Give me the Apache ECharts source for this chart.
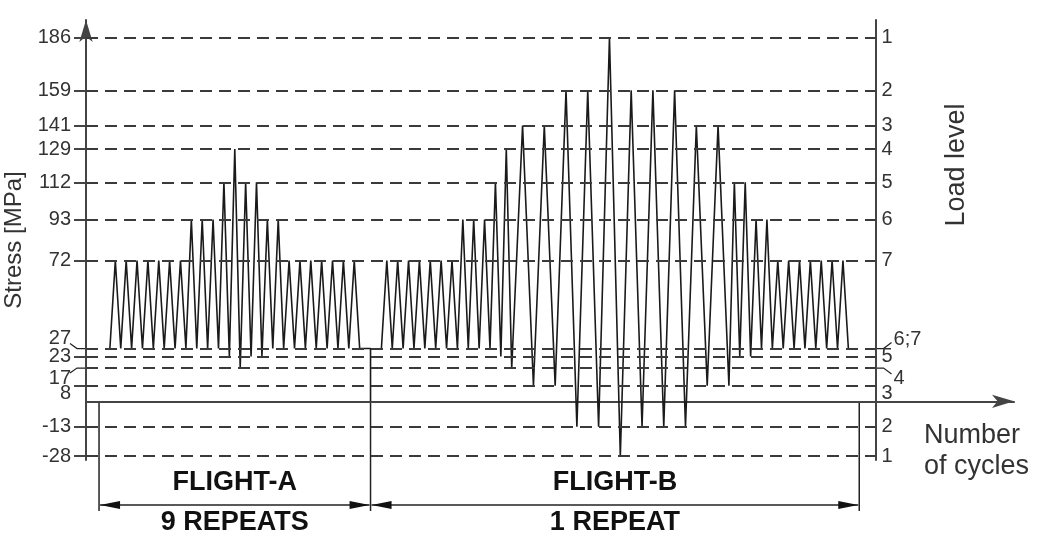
<!DOCTYPE html>
<html>
<head>
<meta charset="utf-8">
<title>Flight load sequence</title>
<script src="https://cdn.jsdelivr.net/npm/echarts@6/dist/echarts.min.js"></script>
<style>
  html, body { margin: 0; padding: 0; background: #fff; }
  #chart { width: 1039px; height: 537px; }
</style>
</head>
<body>
<div id="chart"></div>
<script>
// load levels 1..7 : max and min stress [MPa]
const maxStress = [186, 159, 141, 129, 112, 93, 72];
const minStress = [-28, -13, 8, 17, 23, 27, 27];
// width of one cycle of each level on the drawing (levels 1-3 drawn twice as wide)
const cycleSpan = [2, 2, 2, 1, 1, 1, 1];
// load level of each cycle, in order
const flightALevels = [7, 7, 7, 7, 7, 7, 7, 6, 6, 6, 5, 4, 5, 5, 6, 6, 7, 7, 7, 7, 7, 7, 7];
const flightBLevels = [7, 7, 7, 7, 7, 7, 7, 6, 6, 6, 5, 4, 3, 3, 2, 2, 1, 2, 2, 2, 3, 3, 5, 5, 6, 6, 7, 7, 7, 7, 7, 7, 7];
const flightNames = ['FLIGHT-A', 'FLIGHT-B'];
const flightRepeats = ['9 REPEATS', '1 REPEAT'];
// flight limits and first cycle of each flight (in cycles)
const flightLimits = [-1, 24, 69];
const flightStart = [0, 25];
const loadAxisAt = 70.5;

const X_MIN = -2.2, X_MAX = 83.25;
const DIM_Y = 505;
const FONT = '"Liberation Sans", Arial, sans-serif';
const INK = '#222';

const stressTicks = [...new Set(maxStress.concat(minStress))].sort((a, b) => b - a);
const leftTicks = stressTicks.filter(v => v !== 27 && v !== 17);

// right axis: load level names, 27 is shared by 6 and 7
const loadLabel = {};
maxStress.forEach((v, i) => { loadLabel[v] = String(i + 1); });
minStress.forEach((v, i) => {
  loadLabel[v] = loadLabel[v] ? loadLabel[v] + ';' + (i + 1) : String(i + 1);
});

function flightPoints(levels, t0) {
  let t = t0;
  const pts = [[t, minStress[levels[0] - 1]]];
  levels.forEach(function (lv) {
    const span = cycleSpan[lv - 1];
    pts.push([t + span / 2, maxStress[lv - 1]]);
    t += span;
    pts.push([t, minStress[lv - 1]]);
  });
  return pts;
}
const dataA = flightPoints(flightALevels, flightStart[0]);
dataA.push([flightLimits[1], dataA[dataA.length - 1][1]], [flightLimits[1], 0]);
const dataB = flightPoints(flightBLevels, flightStart[1]);

const tickText = { fontSize: 20, color: '#333', fontFamily: FONT };
const rich = (extra) => Object.assign({}, tickText, extra);

const option = {
  animation: false,
  grid: { left: 86, right: 25, top: 20, bottom: 77, containLabel: false, outerBoundsMode: 'none' },
  xAxis: {
    type: 'value', min: X_MIN, max: X_MAX,
    axisLine: {
      show: true, onZero: true, onZeroAxisIndex: 0,
      symbol: ['none', 'arrow'], symbolSize: [10, 22],
      lineStyle: { color: '#444', width: 2 }
    },
    axisTick: { show: false }, axisLabel: { show: false }, splitLine: { show: false },
    name: 'Number\nof cycles', nameLocation: 'end', nameGap: -90,
    nameTextStyle: {
      align: 'left', verticalAlign: 'top', fontSize: 27, lineHeight: 31,
      color: '#333', fontFamily: FONT, padding: [19, 0, 0, 0]
    }
  },
  yAxis: [{
    type: 'value', min: -30, max: 195, position: 'left',
    axisLine: {
      show: true, onZero: false, symbol: ['none', 'arrow'], symbolSize: [10, 22],
      lineStyle: { color: '#444', width: 2 }
    },
    axisTick: { show: true, length: 12, customValues: leftTicks, lineStyle: { color: '#444', width: 2 } },
    axisLabel: {
      customValues: stressTicks, margin: 15, hideOverlap: false,
      showMinLabel: true, showMaxLabel: true,
      formatter: function (v) {
        if (v === 27) return '{up|' + v + '}';
        if (v === 17) return '{dn|' + v + '}';
        if (v === 8) return '{dn2|' + v + '}';
        return '{n|' + v + '}';
      },
      rich: {
        n: rich({}),
        up: rich({ padding: [0, 0, 20, 0] }),
        dn: rich({ padding: [20, 0, 0, 0] }),
        dn2: rich({ padding: [16, 0, 0, 0] })
      }
    },
    splitLine: { show: false },
    name: 'Stress [MPa]', nameLocation: 'middle', nameGap: 46, nameRotate: 90,
    nameTextStyle: { fontSize: 24, color: '#333', fontFamily: FONT }
  }, {
    type: 'value', min: -30, max: 195, position: 'right',
    axisLine: { show: true, onZero: false, lineStyle: { color: '#444', width: 2 } },
    axisTick: { show: false },
    axisLabel: {
      customValues: stressTicks, margin: 6, hideOverlap: false,
      showMinLabel: true, showMaxLabel: true,
      formatter: function (v) {
        const t = loadLabel[v];
        if (v === 27) return '{up|' + t + '}';
        if (v === 17) return '{dn|' + t + '}';
        if (v === 8) return '{dn2|' + t + '}';
        return '{n|' + t + '}';
      },
      rich: {
        n: rich({}),
        up: rich({ padding: [0, 0, 18, 12] }),
        dn: rich({ padding: [20, 0, 0, 12] }),
        dn2: rich({ padding: [16, 0, 0, 0] })
      }
    },
    splitLine: { show: false },
    name: 'Load level', nameLocation: 'middle', nameGap: 68, nameRotate: 90,
    nameTextStyle: { fontSize: 27, color: '#333', fontFamily: FONT, padding: [0, 0, 0, 150] }
  }],
  series: [{
    name: 'levels', type: 'line', data: [], z: 2,
    markLine: {
      silent: true, symbol: 'none', animation: false,
      label: { show: false },
      lineStyle: { color: '#3a3a3a', width: 2, type: [12, 7] },
      data: stressTicks.map(v => [{ coord: [X_MIN, v] }, { coord: [loadAxisAt, v] }])
    }
  }, {
    name: flightNames[0], type: 'line', data: dataA, symbol: 'none', z: 3,
    lineStyle: { color: '#1a1a1a', width: 1.6 }
  }, {
    name: flightNames[1], type: 'line', data: dataB, symbol: 'none', z: 3,
    lineStyle: { color: '#1a1a1a', width: 1.6 }
  }]
};

const myChart = echarts.init(document.getElementById('chart'));
myChart.setOption(option);

// annotations placed from the chart's own scales
function drawNotes() {
  const px = (t, v) => myChart.convertToPixel({ gridIndex: 0 }, [t, v]);
  const gridRight = px(X_MAX, 0)[0];
  const zeroY = px(0, 0)[1];
  const els = [];
  const line = (x1, y1, x2, y2) => ({
    type: 'line', silent: true, shape: { x1, y1, x2, y2 }, style: { stroke: INK, lineWidth: 1.5 }
  });
  const head = (x, dir) => ({
    type: 'polygon', silent: true,
    shape: { points: [[x, DIM_Y], [x + dir * 20, DIM_Y - 4], [x + dir * 20, DIM_Y + 4]] },
    style: { fill: '#111' }
  });
  const text = (s, x, y) => ({
    type: 'text', silent: true,
    style: { text: s, x, y, fill: '#111', font: 'bold 27px ' + FONT, textAlign: 'center', textVerticalAlign: 'middle' }
  });
  flightLimits.forEach(t => {
    const x = px(t, 0)[0];
    els.push(line(x, zeroY, x, DIM_Y + 6));
  });
  flightNames.forEach((name, i) => {
    const x1 = px(flightLimits[i], 0)[0] + 1;
    const x2 = px(flightLimits[i + 1], 0)[0] - 1;
    els.push(line(x1, DIM_Y, x2, DIM_Y), head(x1, 1), head(x2, -1));
    els.push(text(name, (x1 + x2) / 2, DIM_Y - 22), text(flightRepeats[i], (x1 + x2) / 2, DIM_Y + 18));
  });
  // leader lines of the shifted labels
  [[27, -1], [17, 1]].forEach(([v, d]) => {
    const L = px(X_MIN, v), R = px(loadAxisAt, v);
    els.push({ type: 'polyline', silent: true, shape: { points: [[L[0] - 16, L[1] + d * 5], [L[0] - 9, L[1]], [L[0], L[1]]] }, style: { stroke: INK, lineWidth: 1.2 } });
    els.push({ type: 'polyline', silent: true, shape: { points: [[R[0], R[1]], [R[0] + 8, R[1]], [R[0] + 16, R[1] + d * 6]] }, style: { stroke: INK, lineWidth: 1.2 } });
  });
  myChart.setOption({
    yAxis: [{}, { offset: px(loadAxisAt, 0)[0] - gridRight }],
    graphic: { elements: els }
  });
}
drawNotes();
</script>
</body>
</html>
